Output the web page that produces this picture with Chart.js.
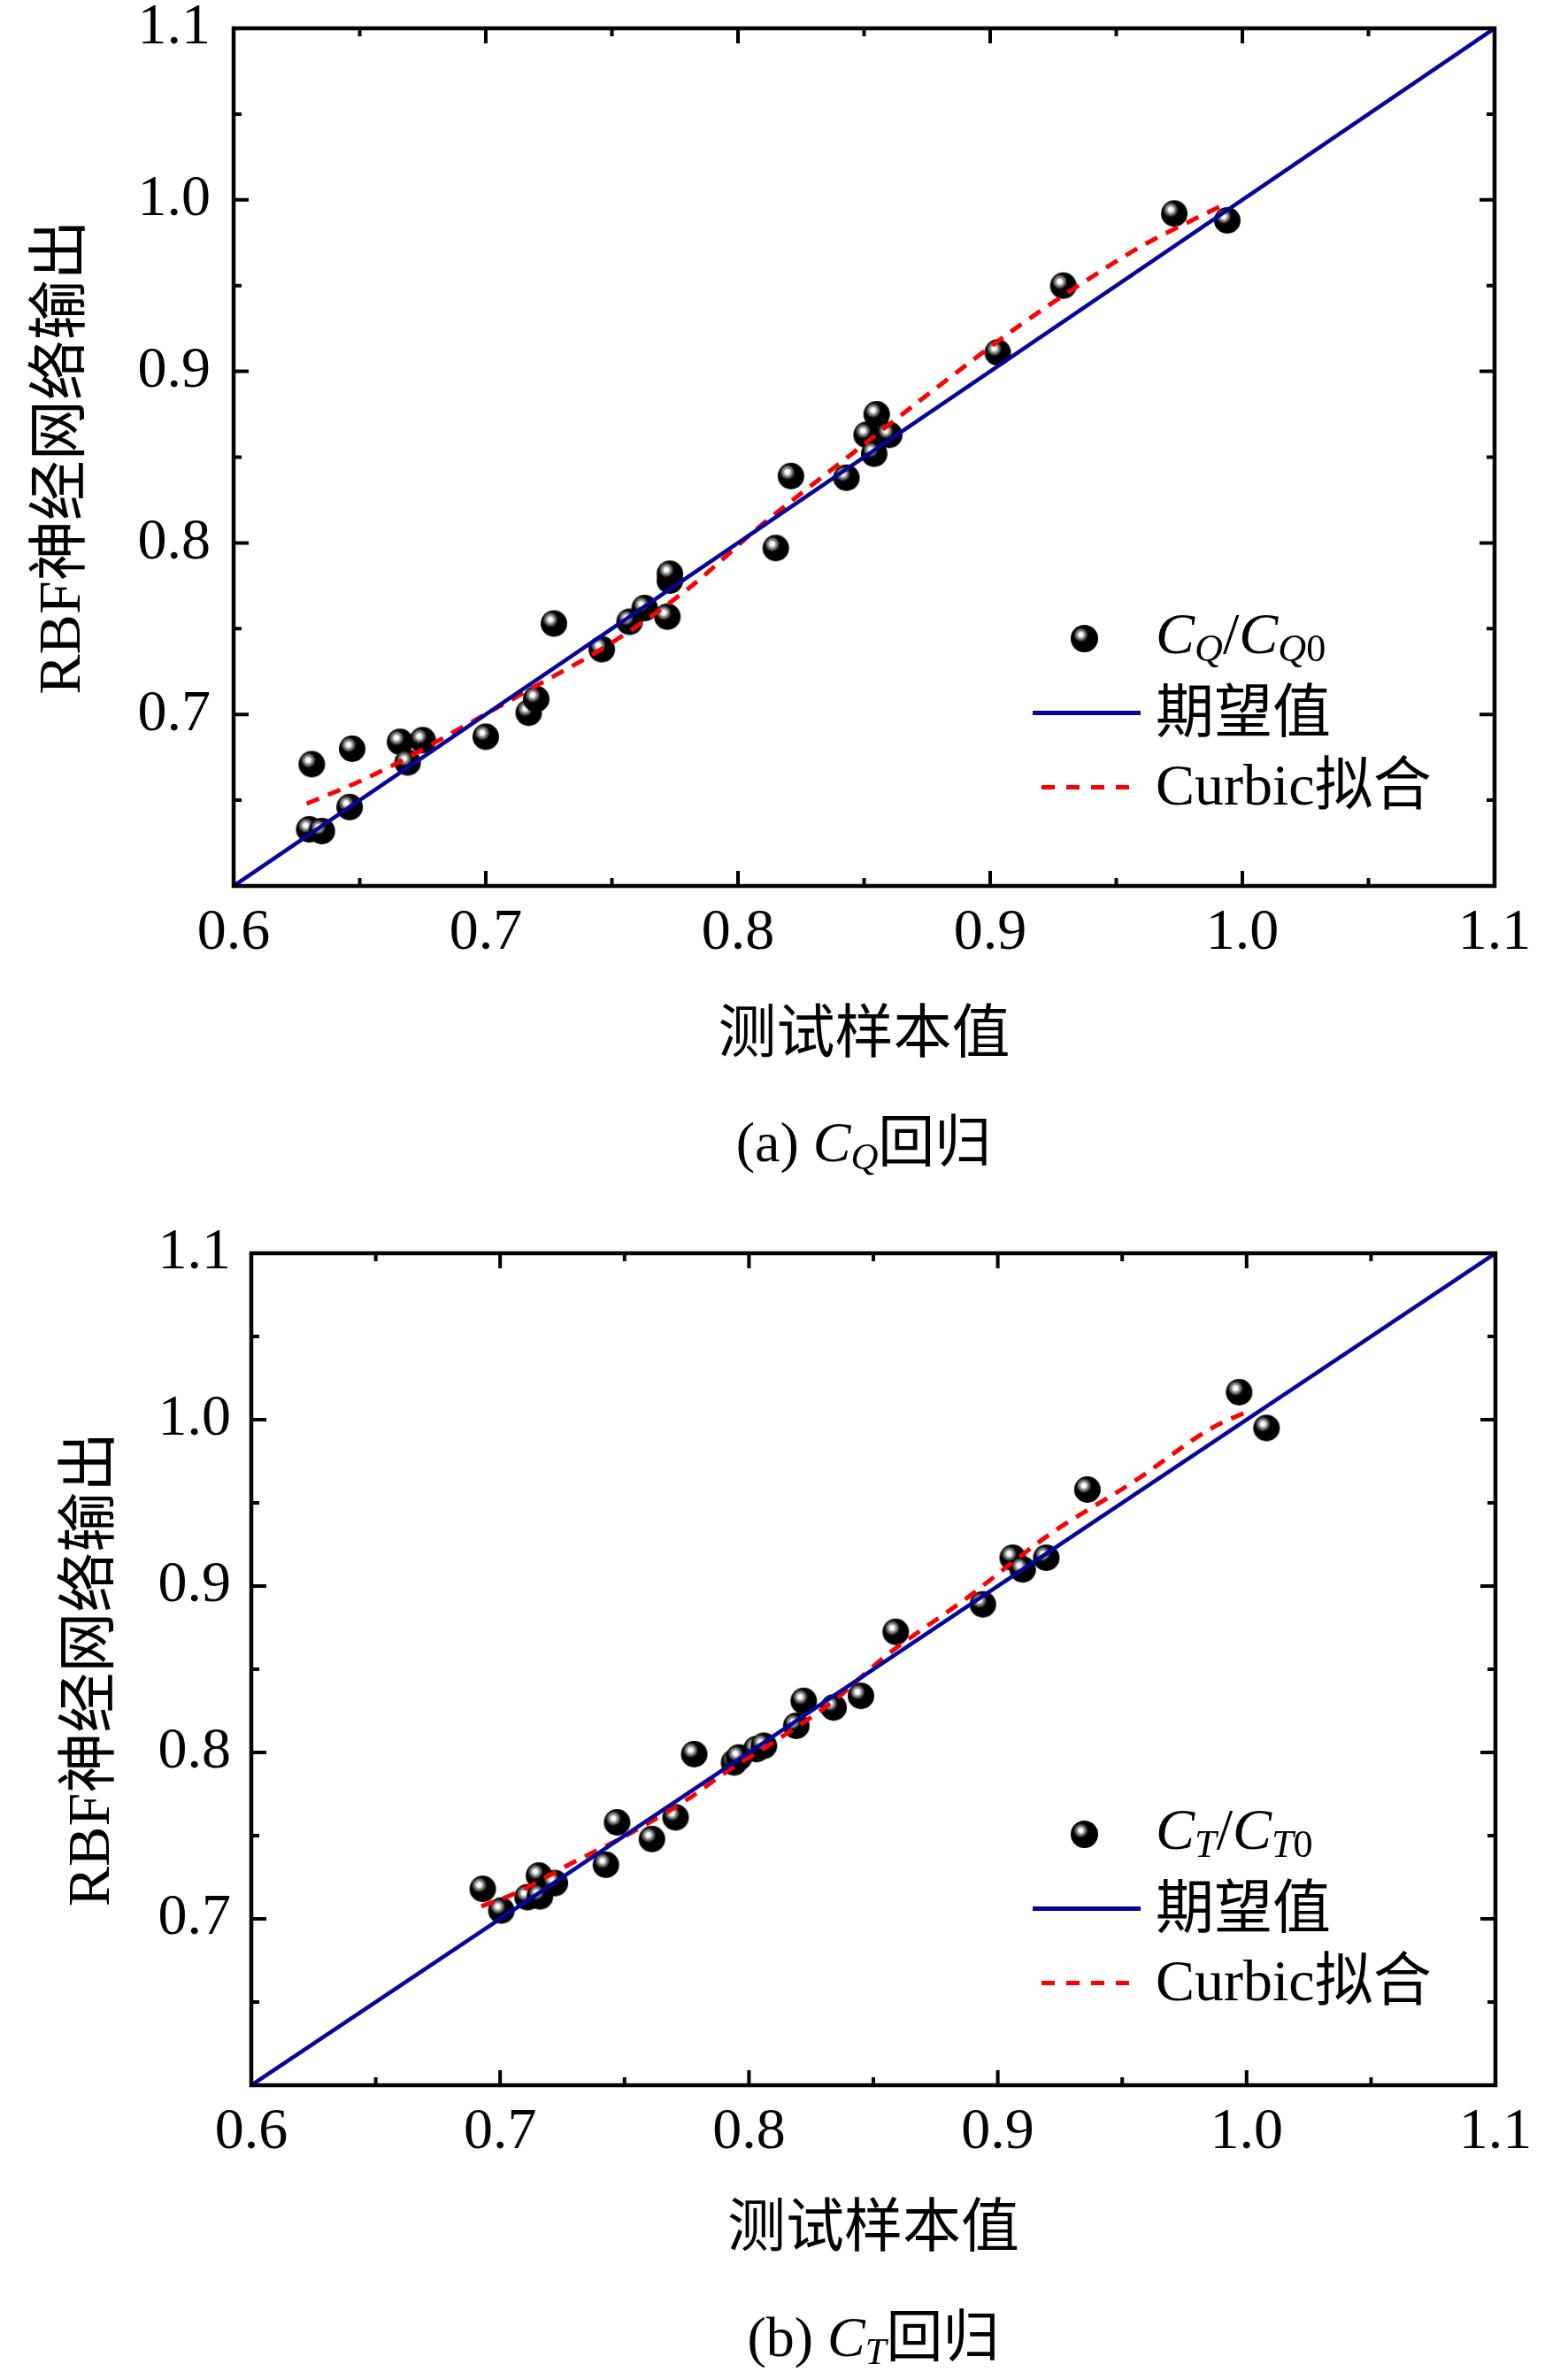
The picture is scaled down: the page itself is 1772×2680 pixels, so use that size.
<!DOCTYPE html>
<html lang="zh-CN">
<head>
<meta charset="utf-8">
<title>RBF神经网络回归</title>
<script src="https://cdn.jsdelivr.net/npm/chart.js@4.4.1/dist/chart.umd.min.js"></script>
<style>
  html, body { margin: 0; padding: 0; background: #fff; }
  #page { position: relative; width: 1772px; height: 2680px; overflow: hidden;
          font-family: 'Liberation Serif', 'Noto Sans CJK SC', serif; color: #000; }
  canvas { position: absolute; left: 0; }
  .lg { position: absolute; height: 100px; line-height: 100px; font-size: 66px; white-space: nowrap; }
  .lg sub, .cap sub { font-size: 0.67em; vertical-align: -0.2em; line-height: 0; }
  .ball { position: absolute; width: 31px; height: 31px; border-radius: 50%;
          background: radial-gradient(circle at 37% 36%, #fff 0, #fff 8%, #b0b0b0 13%, #555 22%, #000 30%); }
  .sym-line { position: absolute; height: 5px; background: rgb(5, 5, 155); }
  .sym-dash { position: absolute; height: 5px;
              background: repeating-linear-gradient(90deg, #f00 0 15px, transparent 15px 28px); }
  .cap { position: absolute; transform: translate(-50%, -50%); font-size: 64px; white-space: nowrap; }
</style>
</head>
<body>
<div id="page">
  <canvas id="chartQ" width="1772" height="1340" style="top:0"></canvas>
  <canvas id="chartT" width="1772" height="1340" style="top:1340px"></canvas>

  <span class="ball" style="left:1210px; top:706px"></span>
  <div class="lg" style="left:1306px; top:666px"><i>C</i><sub><i>Q</i></sub>/<i>C</i><sub><i>Q</i>0</sub></div>
  <span class="sym-line" style="left:1167px; width:122px; top:803px"></span>
  <div class="lg" style="left:1306px; top:755px">期望值</div>
  <span class="sym-dash" style="left:1177px; width:102px; top:887px"></span>
  <div class="lg" style="left:1306px; top:837px">Curbic拟合</div>
  <div class="cap" style="left:976px; top:1284px">(a) <i>C</i><sub><i>Q</i></sub>回归</div>

  <span class="ball" style="left:1210px; top:2057px"></span>
  <div class="lg" style="left:1306px; top:2017px"><i>C</i><sub><i>T</i></sub>/<i>C</i><sub><i>T</i>0</sub></div>
  <span class="sym-line" style="left:1167px; width:122px; top:2154px"></span>
  <div class="lg" style="left:1306px; top:2106px">期望值</div>
  <span class="sym-dash" style="left:1177px; width:102px; top:2238px"></span>
  <div class="lg" style="left:1306px; top:2188px">Curbic拟合</div>
  <div class="cap" style="left:987px; top:2634px">(b) <i>C</i><sub><i>T</i></sub>回归</div>
</div>

<script>
// axis ticks
const xTickLabels = ['0.6', '0.7', '0.8', '0.9', '1.0', '1.1'];
const yTickLabels = ['', '0.7', '0.8', '0.9', '1.0', '1.1'];
const majorTicks = [0.6, 0.7, 0.8, 0.9, 1.0, 1.1];
const minorTicks = [0.65, 0.75, 0.85, 0.95, 1.05];

// 期望值 line (y = x across the axis range)
const idealLine = [0.6, 1.1];

// (a) C_Q: test sample value vs RBF output
const qTest = [0.630, 0.635, 0.631, 0.647, 0.646, 0.666, 0.669, 0.675, 0.700, 0.717,
               0.720, 0.727, 0.746, 0.757, 0.763, 0.772, 0.773, 0.773, 0.815, 0.821,
               0.843, 0.851, 0.854, 0.855, 0.860, 0.903, 0.929, 0.973, 0.994];
const qRbf  = [0.633, 0.632, 0.671, 0.680, 0.646, 0.684, 0.672, 0.685, 0.687, 0.701,
               0.709, 0.753, 0.738, 0.754, 0.762, 0.757, 0.778, 0.782, 0.797, 0.839,
               0.838, 0.863, 0.852, 0.875, 0.863, 0.911, 0.950, 0.992, 0.988];
// Curbic fit curve
const qFitX = [0.629, 0.650, 0.668, 0.690, 0.721, 0.748, 0.780, 0.809, 0.840, 0.881, 0.910, 0.935, 0.960, 0.991];
const qFitY = [0.648, 0.661, 0.674, 0.692, 0.7175, 0.740, 0.773, 0.810, 0.846, 0.893, 0.925, 0.950, 0.973, 0.996];

// (b) C_T
const tTest = [0.693, 0.7005, 0.711, 0.7156, 0.716, 0.722, 0.7425, 0.747, 0.761, 0.7705,
               0.778, 0.794, 0.796, 0.803, 0.806, 0.819, 0.822, 0.834, 0.845, 0.859,
               0.894, 0.906, 0.910, 0.9195, 0.936, 0.997, 1.008];
const tRbf  = [0.718, 0.705, 0.713, 0.726, 0.7135, 0.7215, 0.7325, 0.758, 0.748, 0.761,
               0.799, 0.794, 0.797, 0.802, 0.804, 0.816, 0.831, 0.827, 0.834, 0.8725,
               0.889, 0.917, 0.910, 0.917, 0.958, 1.0165, 0.995];
const tFitX = [0.6925, 0.706, 0.730, 0.751, 0.776, 0.791, 0.809, 0.834, 0.855, 0.887, 0.921, 0.955, 0.985, 1.000];
const tFitY = [0.7075, 0.7153, 0.7344, 0.7504, 0.7725, 0.7885, 0.8053, 0.831, 0.858, 0.8922, 0.9312, 0.9631, 0.9941, 1.0048];

const BLUE = 'rgb(5, 5, 155)';
const FONT = "'Liberation Serif', 'Noto Sans CJK SC', serif";
const H = 1340;

// black ball with a highlight, used as the point marker
function ballImage(r) {
    const c = document.createElement('canvas');
    c.width = c.height = 2 * r + 2;
    const g = c.getContext('2d');
    const m = r + 1;
    g.fillStyle = '#000';
    g.beginPath(); g.arc(m, m, r, 0, Math.PI * 2); g.fill();
    const hx = m - r * 0.27, hy = m - r * 0.3, hr = r * 0.58;
    const grad = g.createRadialGradient(hx, hy, 0, hx, hy, hr);
    grad.addColorStop(0, '#fff');
    grad.addColorStop(0.28, '#fff');
    grad.addColorStop(0.42, '#b8b8b8');
    grad.addColorStop(0.75, '#555');
    grad.addColorStop(1, '#000');
    g.fillStyle = grad;
    g.beginPath(); g.arc(hx, hy, hr, 0, Math.PI * 2); g.fill();
    return c;
}
const ball = ballImage(15);

// box frame and inward ticks on all four sides
const frameTicks = {
    id: 'frameTicks',
    afterDatasetsDraw(chart) {
        const {ctx, chartArea: a, scales: {x, y}} = chart;
        ctx.save();
        ctx.strokeStyle = '#000';
        ctx.lineWidth = 4;
        ctx.beginPath();
        const mark = (v, len) => {
            const px = x.getPixelForValue(v), py = y.getPixelForValue(v);
            ctx.moveTo(px, a.bottom); ctx.lineTo(px, a.bottom - len);
            ctx.moveTo(px, a.top); ctx.lineTo(px, a.top + len);
            ctx.moveTo(a.left, py); ctx.lineTo(a.left + len, py);
            ctx.moveTo(a.right, py); ctx.lineTo(a.right - len, py);
        };
        majorTicks.forEach(v => mark(v, 17));
        minorTicks.forEach(v => mark(v, 9));
        ctx.stroke();
        ctx.lineWidth = 4.5;
        ctx.strokeRect(a.left, a.top, a.right - a.left, a.bottom - a.top);
        ctx.restore();
    }
};

function makeChart(id, s) {
    return new Chart(document.getElementById(id), {
        type: 'scatter',
        data: {
            datasets: [
                {
                    type: 'line',
                    data: idealLine.map(v => ({x: v, y: v})),
                    borderColor: BLUE,
                    borderWidth: 4.5,
                    pointRadius: 0
                },
                {
                    type: 'line',
                    data: s.fitX.map((v, i) => ({x: v, y: s.fitY[i]})),
                    borderColor: '#ff0000',
                    borderWidth: 5,
                    borderDash: [15, 11],
                    pointRadius: 0,
                    cubicInterpolationMode: 'monotone'
                },
                {
                    data: s.test.map((v, i) => ({x: v, y: s.rbf[i]})),
                    pointStyle: ball,
                    pointRadius: 15
                }
            ]
        },
        options: {
            responsive: false,
            animation: false,
            devicePixelRatio: 1,
            layout: {padding: {left: 0, top: s.top, right: 1772 - s.right, bottom: 0}},
            plugins: {legend: {display: false}, tooltip: {enabled: false}},
            scales: {
                x: {
                    type: 'linear', min: 0.6, max: 1.1,
                    grid: {display: false, drawTicks: false},
                    border: {display: false},
                    ticks: {
                        stepSize: 0.1, padding: 14, color: '#000',
                        font: {family: FONT, size: 66},
                        callback: (v, i) => xTickLabels[i]
                    },
                    title: {
                        display: true, text: '测试样本值', color: '#000',
                        font: {family: FONT, size: 66},
                        padding: {top: 0, bottom: s.xTitlePad}
                    },
                    afterFit: sc => { sc.height = H - s.bottom; sc.paddingLeft = 0; sc.paddingRight = 0; }
                },
                y: {
                    type: 'linear', min: 0.6, max: 1.1,
                    grid: {display: false, drawTicks: false},
                    border: {display: false},
                    ticks: {
                        stepSize: 0.1, padding: s.yTickPad, color: '#000',
                        font: {family: FONT, size: 66},
                        callback: (v, i) => yTickLabels[i]
                    },
                    title: {
                        display: true, text: 'RBF神经网络输出', color: '#000',
                        font: {family: FONT, size: 68},
                        padding: {top: s.yTitlePad, bottom: 0}
                    },
                    afterFit: sc => { sc.width = s.left; sc.paddingTop = 0; sc.paddingBottom = 0; }
                }
            }
        },
        plugins: [frameTicks]
    });
}

makeChart('chartQ', {
    test: qTest, rbf: qRbf, fitX: qFitX, fitY: qFitY,
    left: 264, right: 1689, top: 32, bottom: 1001,
    yTickPad: 26, yTitlePad: 31, xTitlePad: 129
});

makeChart('chartT', {
    test: tTest, rbf: tRbf, fitX: tFitX, fitY: tFitY,
    left: 284, right: 1690, top: 76, bottom: 1016,
    yTickPad: 23, yTitlePad: 64, xTitlePad: 120
});
</script>
</body>
</html>
